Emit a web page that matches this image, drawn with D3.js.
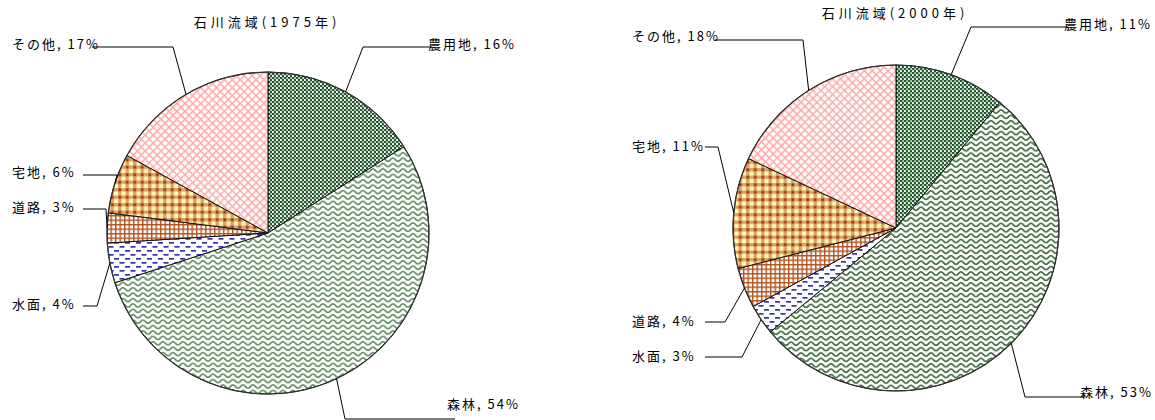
<!DOCTYPE html>
<html>
<head>
<meta charset="utf-8">
<script src="https://cdn.jsdelivr.net/npm/d3@7"></script>
<style>
  body { margin: 0; background: #fff; }
  svg { display: block; }
  text { font-family: "Noto Sans CJK JP", "Noto Sans", sans-serif; fill: #000; }
</style>
</head>
<body>
<svg id="chart" width="1155" height="420"></svg>
<script>
// Land-use shares of the Ishikawa river basin (%)
const categories = ["農用地", "森林", "水面", "道路", "宅地", "その他"];
const share1975 = [16, 54, 4, 3, 6, 17];
const share2000 = [11, 53, 3, 4, 11, 18];
const chartTitles = ["石川流域(1975年)", "石川流域(2000年)"];

// Panel layout: pie centre/radius, title position and label/leader placement
const panels = [
  {
    key: "p1975", values: share1975, title: chartTitles[0],
    cx: 268, cy: 233, r: 161, titleX: 267, titleY: 23, forest: "#5f8d5f",
    labels: [
      { tx: 428, ty: 45,  elbow: [363, 47],  end: [432, 47] },
      { tx: 447, ty: 405, elbow: [345, 419], end: [455, 419] },
      { tx: 12,  ty: 305, elbow: [97, 306],  end: [83, 306] },
      { tx: 12,  ty: 208, elbow: [106, 209], end: [83, 209] },
      { tx: 12,  ty: 173, elbow: [117, 175], end: [83, 175] },
      { tx: 12,  ty: 45,  elbow: [173, 47],  end: [92, 47] }
    ]
  },
  {
    key: "p2000", values: share2000, title: chartTitles[1],
    cx: 896, cy: 228, r: 163, titleX: 895, titleY: 14, forest: "#3a6a3a",
    labels: [
      { tx: 1064, ty: 25,  elbow: [971, 27],   end: [1068, 27] },
      { tx: 1080, ty: 393, elbow: [1025, 397], end: [1085, 397] },
      { tx: 632,  ty: 357, elbow: [742, 357],  end: [705, 357] },
      { tx: 632,  ty: 322, elbow: [725, 322],  end: [705, 322] },
      { tx: 632,  ty: 147, elbow: [718, 147],  end: [705, 147] },
      { tx: 632,  ty: 37,  elbow: [803, 40],   end: [715, 40] }
    ]
  }
];

const svg = d3.select("#chart");
const defs = svg.append("defs");

// Fill patterns, one set per panel
function makePatterns(p) {
  const k = p.key;
  // 農用地: dense dark-green confetti
  let pt = defs.append("pattern").attr("id", `agri-${k}`).attr("patternUnits", "userSpaceOnUse")
    .attr("width", 4).attr("height", 4);
  pt.append("rect").attr("width", 4).attr("height", 4).attr("fill", "#fff");
  pt.append("circle").attr("cx", 1).attr("cy", 1).attr("r", 1.2).attr("fill", "#1c5426");
  pt.append("circle").attr("cx", 3).attr("cy", 3).attr("r", 1.2).attr("fill", "#1c5426");
  pt.append("rect").attr("x", 2.2).attr("y", 0.3).attr("width", 1.3).attr("height", 1.1).attr("fill", "#2a6432");

  // 森林: green waves
  pt = defs.append("pattern").attr("id", `forest-${k}`).attr("patternUnits", "userSpaceOnUse")
    .attr("width", 10).attr("height", 5.4);
  pt.append("rect").attr("width", 10).attr("height", 5.4).attr("fill", "#fff");
  pt.append("path").attr("d", "M0,3.9 Q1.25,3.9 2.5,2.3 T5,0.8 Q6.25,0.8 7.5,2.3 T10,3.9")
    .attr("fill", "none").attr("stroke", p.forest).attr("stroke-width", 1.7);

  // 水面: staggered blue dashes
  pt = defs.append("pattern").attr("id", `water-${k}`).attr("patternUnits", "userSpaceOnUse")
    .attr("width", 11).attr("height", 8);
  pt.append("rect").attr("width", 11).attr("height", 8).attr("fill", "#fff");
  pt.append("rect").attr("x", 0).attr("y", 1).attr("width", 5).attr("height", 1.7).attr("fill", "#3333a6");
  pt.append("rect").attr("x", 5.5).attr("y", 5).attr("width", 5).attr("height", 1.7).attr("fill", "#3333a6");

  // 道路: fine brown grid
  pt = defs.append("pattern").attr("id", `road-${k}`).attr("patternUnits", "userSpaceOnUse")
    .attr("width", 4.5).attr("height", 4.5);
  pt.append("rect").attr("width", 4.5).attr("height", 4.5).attr("fill", "#fff");
  pt.append("rect").attr("x", 0).attr("y", 0).attr("width", 1.4).attr("height", 4.5).attr("fill", "#b4531f");
  pt.append("rect").attr("x", 0).attr("y", 0).attr("width", 4.5).attr("height", 1.4).attr("fill", "#b4531f");

  // 宅地: yellow/brown plaid
  pt = defs.append("pattern").attr("id", `res-${k}`).attr("patternUnits", "userSpaceOnUse")
    .attr("width", 7.5).attr("height", 7.5);
  pt.append("rect").attr("width", 7.5).attr("height", 7.5).attr("fill", "#ffffbe");
  pt.append("rect").attr("x", 0).attr("y", 0).attr("width", 7.5).attr("height", 3.5).attr("fill", "#dca266");
  pt.append("rect").attr("x", 0).attr("y", 0).attr("width", 3.5).attr("height", 7.5).attr("fill", "#dca266");
  pt.append("rect").attr("x", 4.5).attr("y", 4.5).attr("width", 2.5).attr("height", 2.5).attr("fill", "#fff7b0");
  pt.append("rect").attr("x", 0.4).attr("y", 0.4).attr("width", 2.7).attr("height", 2.7).attr("fill", "#9a3300");

  // その他: pink diagonal lattice
  pt = defs.append("pattern").attr("id", `other-${k}`).attr("patternUnits", "userSpaceOnUse")
    .attr("width", 5.6).attr("height", 5.6).attr("patternTransform", "rotate(45)");
  pt.append("rect").attr("width", 5.6).attr("height", 5.6).attr("fill", "#fff");
  pt.append("rect").attr("width", 5.6).attr("height", 1.5).attr("fill", "#ffaaaa");
  pt.append("rect").attr("width", 1.5).attr("height", 5.6).attr("fill", "#ffaaaa");
}

const fillKeys = ["agri", "forest", "water", "road", "res", "other"];

panels.forEach(p => {
  makePatterns(p);

  const data = categories.map((c, i) => ({ name: c, value: p.values[i], idx: i }));
  const pie = d3.pie().sort(null).value(d => d.value);
  const arcs = pie(data);
  const arc = d3.arc().innerRadius(0).outerRadius(p.r);

  const g = svg.append("g").attr("transform", `translate(${p.cx},${p.cy})`);

  g.selectAll("path.slice")
    .data(arcs)
    .join("path")
    .attr("class", "slice")
    .attr("d", arc)
    .attr("fill", d => `url(#${fillKeys[d.data.idx]}-${p.key})`)
    .attr("stroke", "#111")
    .attr("stroke-width", 1)
    .attr("stroke-linejoin", "round");

  g.append("circle").attr("r", p.r).attr("fill", "none")
    .attr("stroke", "#333").attr("stroke-width", 1.2);

  // Leader lines: from slice mid-angle on the rim, via elbow, to the label
  const lines = svg.append("g");
  arcs.forEach((a, i) => {
    const lab = p.labels[i];
    const mid = (a.startAngle + a.endAngle) / 2;
    const sx = p.cx + p.r * Math.sin(mid);
    const sy = p.cy - p.r * Math.cos(mid);
    lines.append("polyline")
      .attr("points", [[sx, sy], lab.elbow, lab.end].map(q => q.join(",")).join(" "))
      .attr("fill", "none").attr("stroke", "#000").attr("stroke-width", 1);
  });

  svg.append("g").selectAll("text.lab")
    .data(arcs)
    .join("text")
    .attr("class", "lab")
    .attr("x", (d, i) => p.labels[i].tx)
    .attr("y", (d, i) => p.labels[i].ty)
    .attr("dominant-baseline", "middle")
    .attr("font-size", 13)
    .attr("letter-spacing", 2)
    .text(d => `${d.data.name}, ${d.data.value}%`);

  svg.append("text")
    .attr("x", p.titleX).attr("y", p.titleY)
    .attr("text-anchor", "middle")
    .attr("dominant-baseline", "middle")
    .attr("font-size", 13)
    .attr("letter-spacing", 4)
    .text(p.title);
});
</script>
</body>
</html>
